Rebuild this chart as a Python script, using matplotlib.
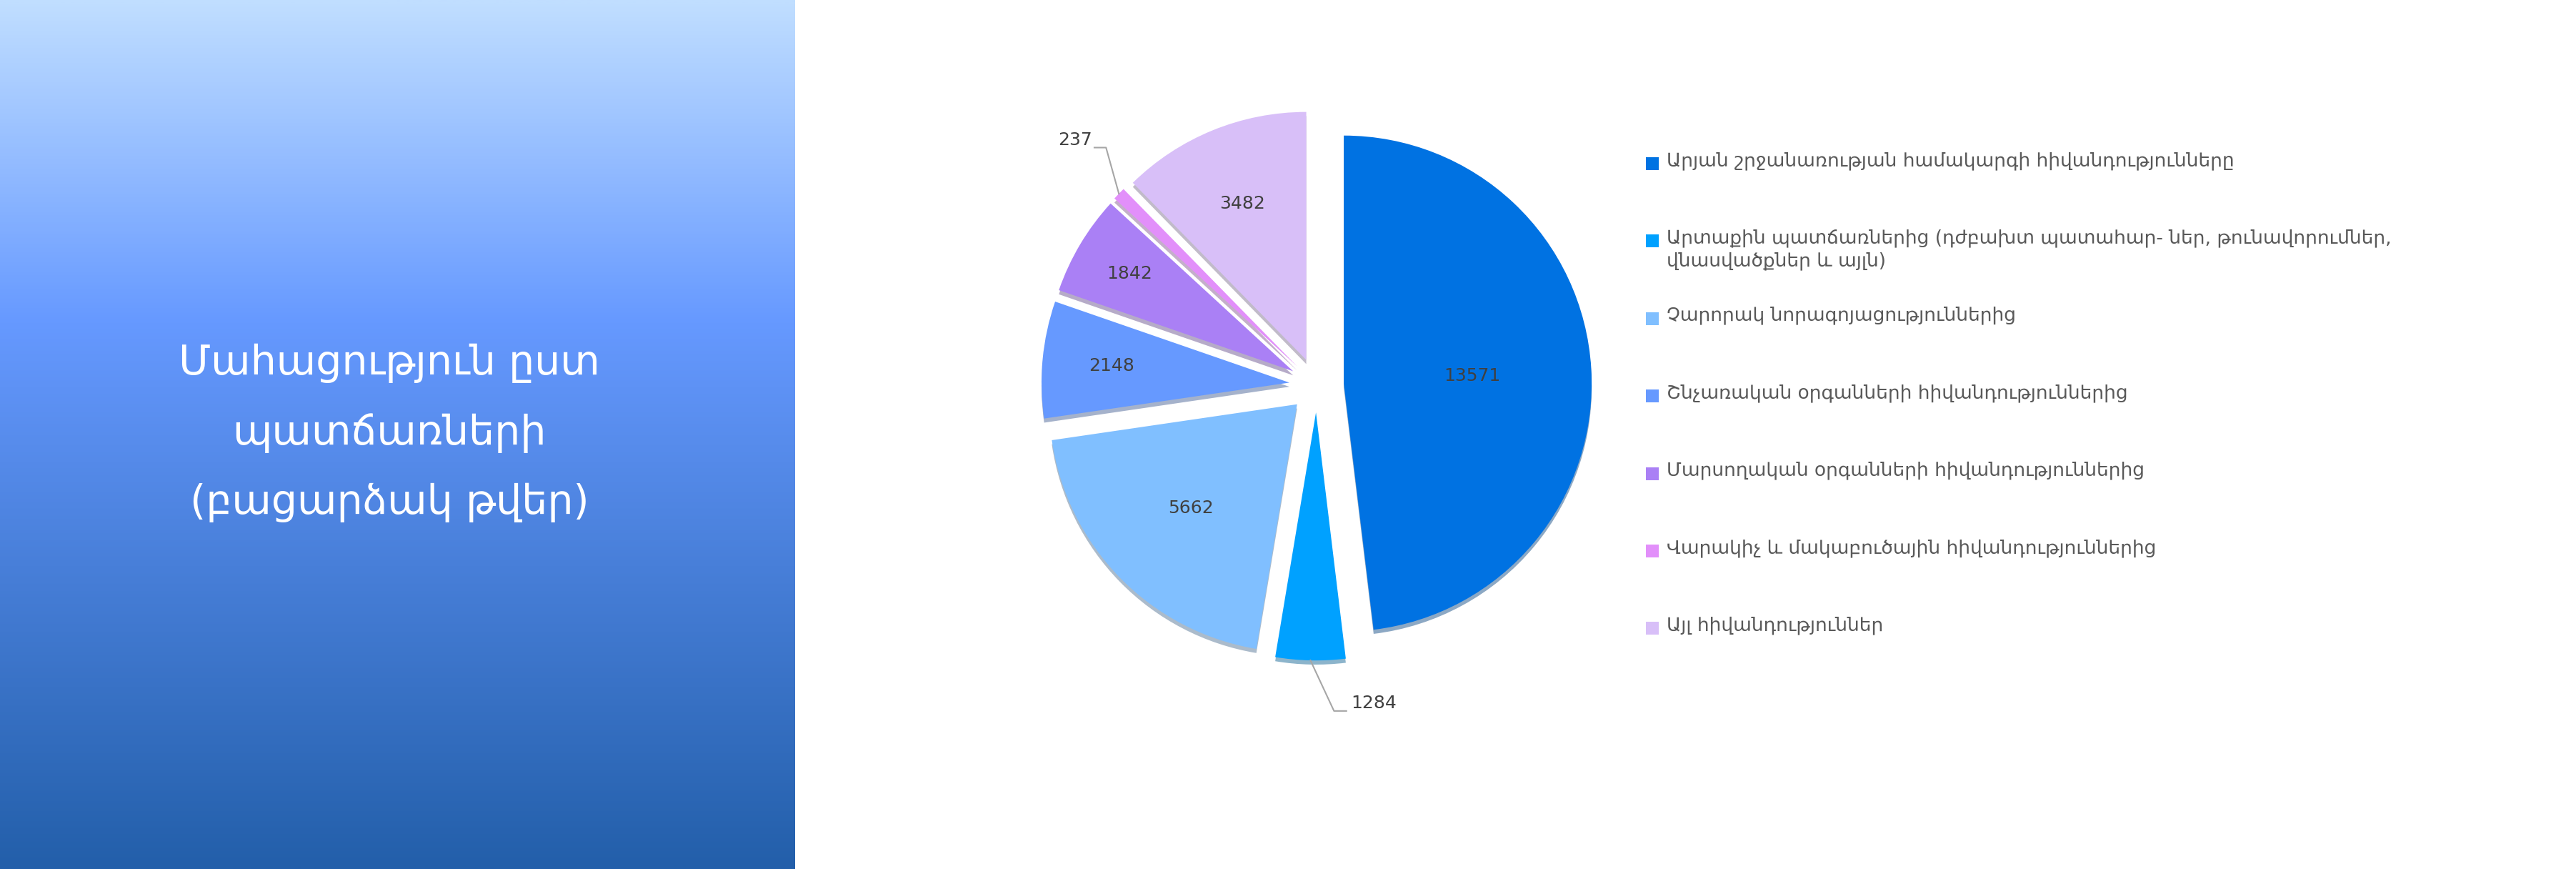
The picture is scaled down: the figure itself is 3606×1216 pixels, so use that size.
import numpy as np
import matplotlib
matplotlib.use("Agg")
import matplotlib.pyplot as plt
from matplotlib.patches import Rectangle
from matplotlib.colors import LinearSegmentedColormap

plt.rcParams['font.family'] = ['DejaVu Sans']

# ---------------- data ----------------
categories = [
    "Արյան շրջանառության համակարգի հիվանդությունները",
    "Արտաքին պատճառներից (դժբախտ պատահար- ներ, թունավորումներ,\nվնասվածքներ և այլն)",
    "Չարորակ նորագոյացություններից",
    "Շնչառական օրգանների հիվանդություններից",
    "Մարսողական օրգանների հիվանդություններից",
    "Վարակիչ և մակաբուծային հիվանդություններից",
    "Այլ հիվանդություններ",
]
values = [13571, 1284, 5662, 2148, 1842, 237, 3482]
colors = ["#0072E2", "#00A1FF", "#80BFFF", "#6699FF", "#AA80F5", "#E28FFA", "#D8BFF8"]
title_lines = ["Մահացություն ըստ", "պատճառների", "(բացարձակ թվեր)"]

# ---------------- style / layout ----------------
W, H = 3606, 1216
fig = plt.figure(figsize=(W / 100, H / 100), dpi=100)

# left gradient panel
panel_w = 1113
bg = fig.add_axes([0, 0, panel_w / W, 1])
cmap = LinearSegmentedColormap.from_list(
    "panel", [(0.0, "#C0DEFF"), (0.37, "#6699FF"), (1.0, "#235FAA")])
grad = np.linspace(0, 1, 600).reshape(-1, 1)
bg.imshow(grad, aspect="auto", cmap=cmap, extent=[0, 1, 0, 1], origin="upper")
bg.set_axis_off()

title_x = 545
title_ys = [508, 606, 703]
for line, ty in zip(title_lines, title_ys):
    fig.text(title_x / W, 1 - ty / H, line, ha="center", va="center",
             color="white", fontsize=41)

# pie
R = 347
cx, cy = 1843, 539
L = 1.5
ax = fig.add_axes([(cx - L * R) / W, (H - cy - L * R) / H, 2 * L * R / W, 2 * L * R / H])
wedges, _ = ax.pie(values, colors=colors, startangle=90, counterclock=False,
                   explode=[0.11] * len(values),
                   shadow={"ox": 0.0, "oy": -0.012, "shade": 0.45, "alpha": 0.45},
                   wedgeprops=dict(linewidth=0))
ax.set_xlim(-L, L)
ax.set_ylim(-L, L)
ax.set_axis_off()

label_color = "#404040"
label_fs = 18
label_r = [0.52, None, 0.60, 0.72, 0.77, None, 0.68]
# outside labels: (elbow dx, elbow dy, end dx, text side)
leaders = {1: (0.095, -0.204, 0.05, "left"), 5: (-0.052, 0.186, -0.047, "right")}

for i, w in enumerate(wedges):
    mid = np.deg2rad((w.theta1 + w.theta2) / 2)
    c = np.array(w.center)
    d = np.array([np.cos(mid), np.sin(mid)])
    if label_r[i] is not None:
        p = c + label_r[i] * d
        ax.text(p[0], p[1], str(values[i]), ha="center", va="center",
                color=label_color, fontsize=label_fs)
    else:
        ex, ey, endx, side = leaders[i]
        p0 = c + 1.0 * d
        p1 = p0 + np.array([ex, ey])
        p2 = p1 + np.array([endx, 0])
        ax.plot([p0[0], p1[0], p2[0]], [p0[1], p1[1], p2[1]], color="#A6A6A6", lw=1.5)
        if side == "left":
            ax.text(p2[0] + 0.02, p2[1] + 0.03, str(values[i]), ha="left", va="center",
                    color=label_color, fontsize=label_fs)
        else:
            ax.text(p2[0] - 0.01, p2[1] + 0.03, str(values[i]), ha="right", va="center",
                    color=label_color, fontsize=label_fs)

# legend (manual)
leg_x = 2304
leg_sq = 18
leg_y0 = 229
leg_dy = 108.4
leg_fs = 19
for i, (cat, col) in enumerate(zip(categories, colors)):
    yc = leg_y0 + i * leg_dy
    fig.patches.append(Rectangle(((leg_x) / W, 1 - (yc + leg_sq / 2) / H),
                                 leg_sq / W, leg_sq / H, transform=fig.transFigure,
                                 facecolor=col, edgecolor="none"))
    fig.text((leg_x + 29) / W, 1 - (yc - 17) / H, cat, ha="left", va="top",
             color="#595959", fontsize=leg_fs, linespacing=1.3)

fig.savefig("out.png", dpi=100, facecolor="white")
